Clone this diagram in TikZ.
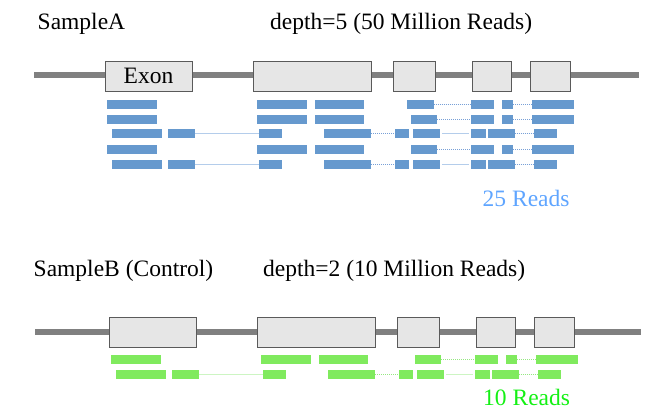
\documentclass[tikz,border=0pt]{standalone}
\usepackage{fontspec}
\setmainfont{Liberation Serif}
\definecolor{readblue}{RGB}{102,153,206}
\definecolor{readgreen}{RGB}{128,234,94}
\definecolor{dotblue}{RGB}{120,160,215}
\definecolor{lineblue}{RGB}{180,205,235}
\definecolor{dotgreen}{RGB}{150,232,130}
\definecolor{linegreen}{RGB}{205,245,195}
\definecolor{genegray}{RGB}{128,128,128}
\definecolor{exonfill}{RGB}{230,230,230}
\definecolor{exonedge}{RGB}{90,90,90}
\definecolor{labelblue}{RGB}{95,165,255}
\definecolor{labelgreen}{RGB}{20,240,20}

\newcommand\rdbox[5]{\node[#5, anchor=west, minimum width={#3pt-#2pt}] (#1) at (#2,#4) {};}

% full-length row: prefix, y, colour suffix, d start, d end
\newcommand\rowFull[5]{%
 \rdbox{#1a}{106.3}{156.3}{#2}{rd#3}
 \rdbox{#1b}{257}{307}{#2}{rd#3}
 \rdbox{#1c}{314.3}{364}{#2}{rd#3}
 \rdbox{#1d}{#4}{#5}{#2}{rd#3}
 \rdbox{#1e}{470.7}{493.7}{#2}{rd#3}
 \rdbox{#1f}{501.3}{512.7}{#2}{rd#3}
 \rdbox{#1g}{532}{573.3}{#2}{rd#3}
 \draw[dot#3] (#1d.east) -- (#1e.west);
 \draw[dot#3] (#1f.east) -- (#1g.west);
}
% split row: prefix, y, colour suffix
\newcommand\rowSplit[3]{%
 \rdbox{#1a}{111.7}{161.7}{#2}{rd#3}
 \rdbox{#1b}{167.7}{194.3}{#2}{rd#3}
 \rdbox{#1c}{258.7}{281.7}{#2}{rd#3}
 \rdbox{#1d}{323.3}{370.7}{#2}{rd#3}
 \rdbox{#1e}{394.7}{408.3}{#2}{rd#3}
 \rdbox{#1f}{413}{440}{#2}{rd#3}
 \rdbox{#1g}{470.7}{485.7}{#2}{rd#3}
 \rdbox{#1h}{487.7}{514.3}{#2}{rd#3}
 \rdbox{#1i}{533.3}{556.7}{#2}{rd#3}
 \draw[ln#3] (#1b.east) -- (#1c.west);
 \draw[dot#3] (#1d.east) -- (#1e.west);
 \draw[ln#3, shorten <=2pt, shorten >=2pt] (#1f.east) -- (#1g.west);
 \draw[dot#3] (#1h.east) -- (#1i.west);
}

\begin{document}
\begin{tikzpicture}[x=1pt, y=-1pt,
  lbl/.style={anchor=base west, inner sep=0pt, font=\fontsize{23.5}{28}\selectfont},
  gene/.style={draw=genegray, line width=5.5pt},
  exon/.style={draw=exonedge, fill=exonfill, line width=1pt, inner sep=0pt,
    minimum height=30pt, font=\fontsize{23.5}{28}\selectfont},
  rdblue/.style={fill=readblue, draw=none, inner sep=0pt, minimum height=9pt},
  rdgreen/.style={fill=readgreen, draw=none, inner sep=0pt, minimum height=9pt},
  dotblue/.style={draw=dotblue, line width=0.9pt, dash pattern=on 1pt off 1pt},
  dotgreen/.style={draw=dotgreen, line width=0.9pt, dash pattern=on 1pt off 1pt},
  lnblue/.style={draw=lineblue, line width=0.9pt},
  lngreen/.style={draw=linegreen, line width=0.9pt}]
\useasboundingbox (0,0) rectangle (664,410);

% ---------- Sample A ----------
\node[lbl] (titleA) at (37.5,29) {SampleA};
\node[lbl] (depthA) at (270,29) {depth=5 (50 Million Reads)};

\coordinate (gAs) at (34,75);
\coordinate (gAe) at (639,75);
\draw[gene] (gAs) -- (gAe);
\node[exon, minimum width=87pt]  (eA1) at (148.5,76) {Exon};
\node[exon, minimum width=118pt] (eA2) at (312,76) {};
\node[exon, minimum width=42pt]  (eA3) at (414,76) {};
\node[exon, minimum width=39pt]  (eA4) at (491.5,76) {};
\node[exon, minimum width=40pt]  (eA5) at (550,76) {};

\rowFull{rA1}{104}{blue}{406.3}{433.3}
\rowFull{rA2}{119}{blue}{410.3}{437}
\rowSplit{rA3}{133.5}{blue}
\rowFull{rA4}{149.5}{blue}{410.3}{437}
\rowSplit{rA5}{164}{blue}

\node[lbl, text=labelblue] (countA) at (482.5,206) {25 Reads};

% ---------- Sample B ----------
\node[lbl] (titleB) at (33.5,276) {SampleB (Control)};
\node[lbl] (depthB) at (263,276) {depth=2 (10 Million Reads)};

\coordinate (gBs) at (35,332);
\coordinate (gBe) at (641,332);
\draw[gene] (gBs) -- (gBe);
\node[exon, minimum width=87pt]  (eB1) at (152.5,332) {};
\node[exon, minimum width=118pt] (eB2) at (316,332) {};
\node[exon, minimum width=42pt]  (eB3) at (418,332) {};
\node[exon, minimum width=39pt]  (eB4) at (495.5,332) {};
\node[exon, minimum width=40pt]  (eB5) at (554,332) {};

\begin{scope}[xshift=4pt]
\rowFull{rB1}{359.7}{green}{410.3}{437}
\rowSplit{rB2}{374.7}{green}
\end{scope}

\node[lbl, text=labelgreen] (countB) at (483,405.5) {10 Reads};
\end{tikzpicture}
\end{document}
